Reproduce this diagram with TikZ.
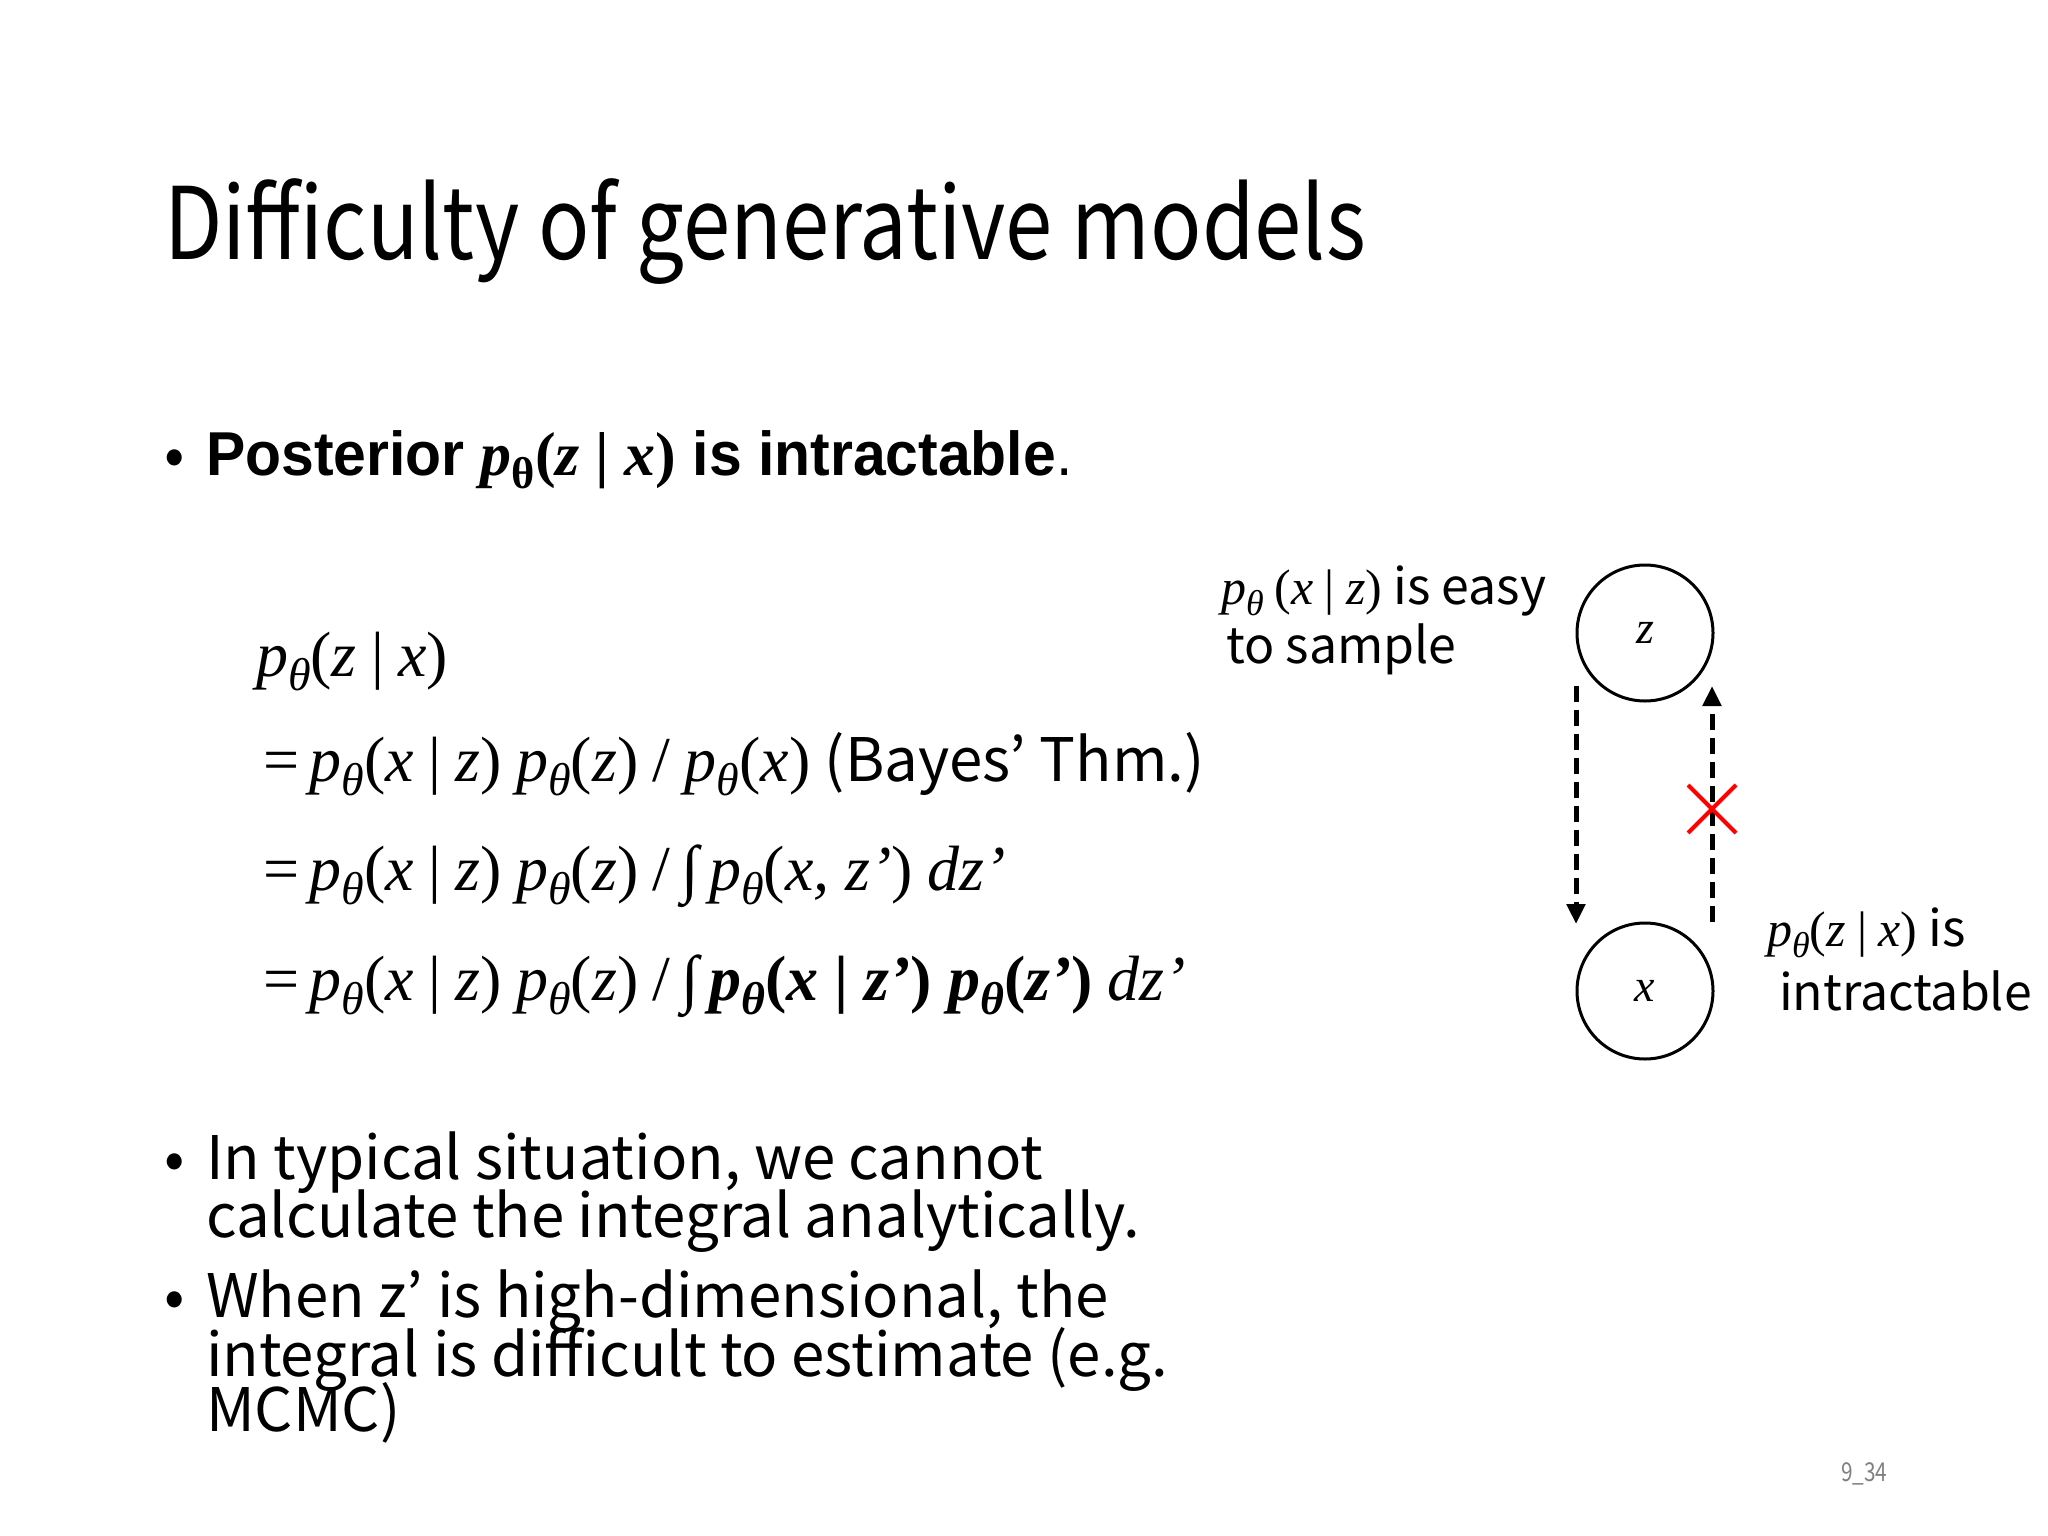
\documentclass[tikz,border=0pt]{standalone}
\usepackage{fontspec}
\setmainfont{Noto Sans CJK JP}
\newfontfamily\tms{Liberation Serif}
\newfontfamily\bsans{Liberation Sans}
\usetikzlibrary{arrows.meta}
\newcommand{\thsub}{\raisebox{-0.22em}{\scalebox{0.72}{\tms\itshape θ}}}
\newcommand{\mypt}{{\tms\itshape p}\thsub}
\newcommand{\mi}[1]{{\tms\itshape #1}}
\newcommand{\mr}[1]{{\tms #1}}
\begin{document}
\begin{tikzpicture}[x=1pt,y=-1pt,
  txt/.style={anchor=base west,inner sep=0pt,outer sep=0pt},
  var/.style={circle,draw,line width=3pt,minimum size=136pt,inner sep=0pt,font=\fontsize{46}{50}\selectfont\tms\itshape},
  darr/.style={line width=5pt,dash pattern=on 16pt off 8pt,-{Triangle[length=20pt,width=18pt]}}]
\useasboundingbox (0,0) rectangle (2048,1536);
\fill[white] (0,0) rectangle (2048,1536);
\node[txt,font=\fontsize{100}{110}\selectfont] (title) at (164,259) {\addfontfeature{FakeStretch=0.85}Difficulty of generative models};
% bullet 1
\node[txt,font=\fontsize{60}{66}\selectfont] (b1) at (164,475) {•};
\node[txt,font=\fontsize{62}{70}\selectfont\bsans\bfseries] (post) at (206,475) {\addfontfeature{FakeStretch=0.95}Posterior {\tms\bfseries\itshape p}\raisebox{-0.22em}{\scalebox{0.72}{\tms\bfseries θ}}{\tms\bfseries(\textit{z} | \textit{x})} is intractable\mdseries.};
% equations
\begin{scope}[every node/.style={txt,font=\fontsize{64}{70}\selectfont}]
\node (e1) at (256,676) {\mypt\mr{(}\mi{z} \mr{|} \mi{x}\mr{)}};
\node (e2) at (263,781) {\mr{=}\,\mypt\mr{(}\mi{x} \mr{|} \mi{z}\mr{)} \mypt\mr{(}\mi{z}\mr{)} \mr{/} \mypt\mr{(}\mi{x}\mr{)} {\fontsize{60}{66}\selectfont(Bayes’ Thm.)}};
\node (e3) at (263,890) {\mr{=}\,\mypt\mr{(}\mi{x} \mr{|} \mi{z}\mr{)} \mypt\mr{(}\mi{z}\mr{)} \mr{/}\,{\tms ∫}\,\mypt\mr{(}\mi{x, z’}\mr{)} \mi{dz’}};
\node (e4) at (263,1000) {\mr{=}\,\mypt\mr{(}\mi{x} \mr{|} \mi{z}\mr{)} \mypt\mr{(}\mi{z}\mr{)} \mr{/}\,{\tms ∫}\,{\tms\bfseries\itshape p}\raisebox{-0.22em}{\scalebox{0.72}{\tms\bfseries\itshape θ}}{\tms\bfseries(\textit{x} | \textit{z’}) \textit{p}}\raisebox{-0.22em}{\scalebox{0.72}{\tms\bfseries\itshape θ}}{\tms\bfseries(\textit{z’})} \mi{dz’}};
\end{scope}
% diagram
\node[var] (z) at (1645,633) {z};
\node[var] (x) at (1645,991) {x};
\coordinate (l1) at (1576,686); \coordinate (l2) at (1576,924);
\coordinate (r1) at (1712,922); \coordinate (r2) at (1712,686);
\draw[darr] (l1) -- (l2);
\draw[darr] (r1) -- (r2);
\coordinate (xc) at (1712,809);
\draw[red,line width=4pt] ([shift={(-24,-24)}]xc) -- ([shift={(24,24)}]xc);
\draw[red,line width=4pt] ([shift={(-24,24)}]xc) -- ([shift={(24,-24)}]xc);
\begin{scope}[every node/.style={txt,font=\fontsize{50}{56}\selectfont}]
\node (la1) at (1221,604) {\mypt\ \mr{(}\mi{x} \mr{|} \mi{z}\mr{)} is easy};
\node (la2) at (1226,663) {to sample};
\node (lb1) at (1767,946) {\mypt\mr{(}\mi{z} \mr{|} \mi{x}\mr{)} is};
\node (lb2) at (1779,1010) {intractable};
\end{scope}
% bottom bullets
\begin{scope}[every node/.style={txt,font=\fontsize{60}{66}\selectfont}]
\node (b2) at (164,1179) {•};
\node (t2a) at (206,1179) {In typical situation, we cannot};
\node (t2b) at (206,1237) {calculate the integral analytically.};
\node (b3) at (164,1317) {•};
\node (t3a) at (206,1317) {When z’ is high-dimensional, the};
\node (t3b) at (206,1376) {integral is difficult to estimate (e.g.};
\node (t3c) at (206,1431) {MCMC)};
\end{scope}
\node[txt,font=\fontsize{26}{30}\selectfont,text=gray] (pg) at (1841,1481) {\addfontfeature{FakeStretch=0.8}9\_34};
\end{tikzpicture}
\end{document}
